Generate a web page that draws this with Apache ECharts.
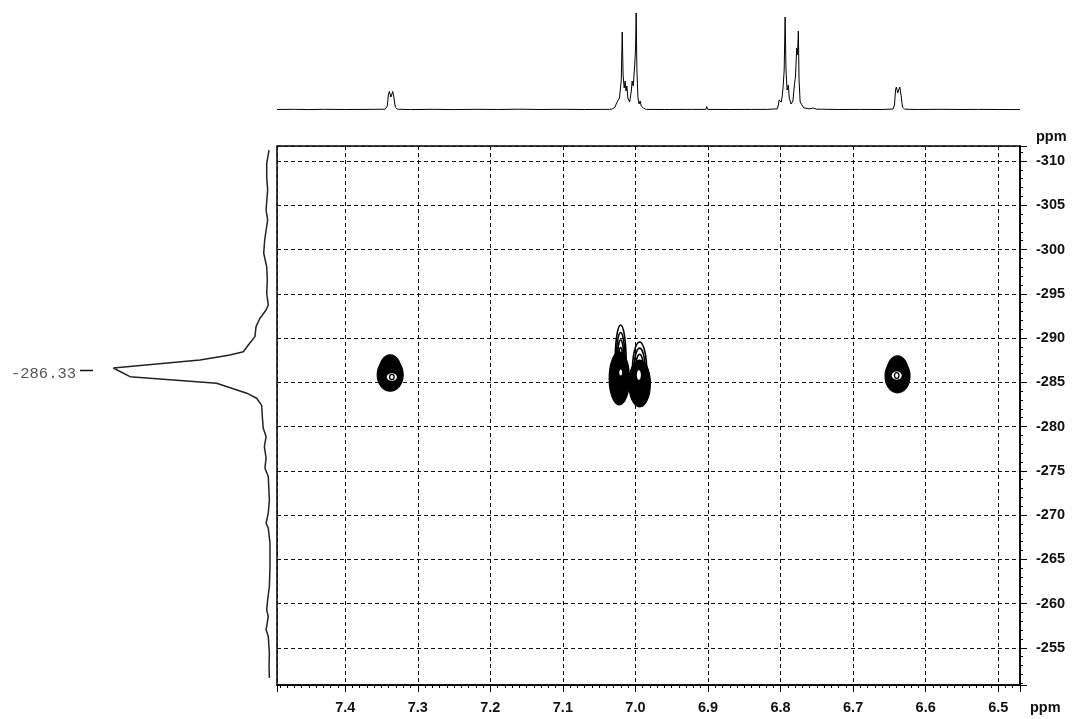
<!DOCTYPE html>
<html><head><meta charset="utf-8">
<script src="https://cdn.jsdelivr.net/npm/echarts@6/dist/echarts.min.js"></script>
<style>html,body{margin:0;padding:0;background:#fff}#c{width:1073px;height:719px}</style>
</head><body><div id="c"></div>
<script>
// ---- data ----
const xTickValues = [7.4, 7.3, 7.2, 7.1, 7.0, 6.9, 6.8, 6.7, 6.6, 6.5];
const xTickLabels = ['7.4', '7.3', '7.2', '7.1', '7.0', '6.9', '6.8', '6.7', '6.6', '6.5'];
const yTickValues = [-310, -305, -300, -295, -290, -285, -280, -275, -270, -265, -260, -255];
const yTickLabels = ['-310', '-305', '-300', '-295', '-290', '-285', '-280', '-275', '-270', '-265', '-260', '-255'];
const f2Range = [6.47, 7.494];      // ppm shown on the horizontal axis
const f1Range = [-311.7, -250.8];   // ppm shown on the vertical axis

// 1D projection on top: [ppm, intensity]
const topSpectrum = [
  [7.494,0.005],[7.47,0.007],[7.45,0.004],[7.43,0.007],[7.40,0.005],[7.37,0.006],[7.345,0.008],
  [7.342,0.04],[7.3405,0.15],[7.3392,0.185],[7.3370,0.13],[7.3358,0.15],[7.3345,0.185],[7.3330,0.13],[7.331,0.03],[7.328,0.008],
  [7.31,0.004],[7.28,0.007],[7.25,0.004],[7.22,0.007],[7.19,0.005],[7.16,0.008],[7.13,0.005],[7.10,0.007],[7.07,0.005],
  [7.046,0.006],[7.044,0.018],[7.042,0.006],[7.036,0.007],[7.034,0.025],[7.032,0.01],[7.028,0.03],[7.026,0.07],
  [7.022,0.12],[7.0195,0.30],[7.0182,0.78],[7.0170,0.35],[7.0155,0.22],[7.0142,0.29],[7.0130,0.19],[7.0118,0.24],
  [7.0105,0.12],[7.0080,0.08],[7.0055,0.20],[7.0046,0.29],[7.0030,0.24],[7.0010,0.45],[6.9998,0.62],[6.9990,0.97],
  [6.9980,0.40],[6.9965,0.12],[6.9950,0.06],[6.9935,0.09],[6.9920,0.04],[6.9890,0.02],[6.985,0.006],
  [6.96,0.005],[6.93,0.006],[6.9215,0.006],[6.9205,0.015],[6.9195,0.006],[6.903,0.006],[6.9017,0.035],[6.9005,0.006],
  [6.87,0.005],[6.84,0.006],[6.818,0.006],[6.8172,0.014],[6.8162,0.006],
  [6.8045,0.012],[6.8030,0.05],[6.8020,0.10],[6.7990,0.08],[6.7975,0.15],[6.7961,0.27],[6.7950,0.40],[6.7937,0.93],
  [6.7925,0.40],[6.7910,0.20],[6.7892,0.25],[6.7880,0.12],[6.7855,0.06],[6.7830,0.09],[6.7809,0.25],[6.7795,0.33],
  [6.7777,0.62],[6.7765,0.55],[6.7755,0.79],[6.7745,0.30],[6.7730,0.08],[6.7705,0.05],[6.7694,0.07],[6.7680,0.02],
  [6.765,0.018],[6.760,0.012],[6.755,0.02],[6.750,0.008],[6.7435,0.008],[6.7430,0.02],[6.7425,0.008],
  [6.72,0.005],[6.69,0.006],[6.66,0.005],[6.645,0.01],[6.643,0.05],[6.6415,0.20],[6.6404,0.23],[6.6385,0.17],
  [6.6372,0.20],[6.6357,0.23],[6.6340,0.15],[6.632,0.03],[6.629,0.008],
  [6.61,0.005],[6.58,0.007],[6.55,0.005],[6.532,0.006],[6.530,0.014],[6.527,0.006],[6.50,0.005],[6.47,0.004]
];

// 1D projection on the left: [ppm, intensity]
const f1Projection = [
  [-311.24,0.006],[-309.74,0.021],[-308.23,0.021],[-306.73,0.015],[-304.47,0.025],[-303.34,0.015],
  [-301.08,0.034],[-299.58,0.040],[-298.06,0.021],[-296.56,0.017],[-295.06,0.021],[-293.74,0.011],
  [-293.17,0.025],[-292.24,0.064],[-291.29,0.089],[-290.16,0.096],[-289.22,0.138],[-288.46,0.170],
  [-288.09,0.255],[-287.53,0.446],[-286.62,0.998],[-285.64,0.892],[-284.90,0.340],[-283.77,0.148],
  [-283.20,0.085],[-282.40,0.053],[-281.12,0.049],[-279.81,0.043],[-278.87,0.025],[-277.74,0.036],
  [-276.43,0.025],[-275.30,0.032],[-274.35,0.011],[-271.72,0.004],[-270.21,0.011],[-269.08,0.025],
  [-268.52,0.011],[-266.83,0.0],[-264.18,0.0],[-261.93,0.004],[-260.42,0.015],[-259.29,0.021],
  [-258.54,0.011],[-257.04,0.025],[-256.28,0.011],[-254.40,0.004],[-252.89,0.006],[-251.58,0.004]
];
const projPeak = [-286.33];

// contour blobs: [f2 ppm, f1 ppm, half-width f2 ppm, half-height f1 ppm]
const contourTails = [
  [7.0204, -287.24, 0.0076, 4.23],
  [6.9943, -286.06, 0.0100, 3.50]
];
const contourBodies = [
  [7.3380, -286.35, 0.0150, 1.75],
  [6.6388, -286.20, 0.0145, 1.80],
  [7.3380, -285.85, 0.0179, 1.85],
  [6.6388, -285.70, 0.0172, 1.90],
  [7.0222, -285.44, 0.0140, 2.99],
  [6.9942, -284.87, 0.0148, 2.65]
];
const contourCores = [
  [7.3357, -285.60, 0.0069, 0.43],
  [6.6399, -285.76, 0.0069, 0.47],
  [7.0204, -286.10, 0.0020, 0.34],
  [6.9953, -285.83, 0.0028, 0.56]
];

// ---- drawing ----
function tickLabel(values, labels) {
  return function (v) {
    const i = values.findIndex(t => Math.abs(t - v) < 1e-6);
    return i >= 0 ? labels[i] : '';
  };
}
function ellipseRender(kind) {
  return function (params, api) {
    const x = api.value(0), y = api.value(1);
    const c = api.coord([x, y]);
    const s = api.size([api.value(2) * 2, api.value(3) * 2], [x, y]);
    const rx = s[0] / 2, ry = s[1] / 2;
    const ch = [];
    if (kind === 'tail') {
      [1, 0.8, 0.6, 0.4].forEach(f => ch.push({type: 'ellipse', shape: {cx: c[0], cy: c[1], rx: rx * f, ry: ry * f},
        style: {fill: 'none', stroke: '#000', lineWidth: 1.6}}));
    } else if (kind === 'body') {
      ch.push({type: 'ellipse', shape: {cx: c[0], cy: c[1], rx: rx, ry: ry}, style: {fill: '#000', stroke: '#000', lineWidth: 1.2}});
    } else {
      ch.push({type: 'ellipse', shape: {cx: c[0], cy: c[1], rx: rx, ry: ry}, style: {fill: '#fff', stroke: 'none'}});
      if (rx > 3) {
        ch.push({type: 'ellipse', shape: {cx: c[0], cy: c[1], rx: rx * 0.45, ry: ry * 0.7}, style: {fill: 'none', stroke: '#000', lineWidth: 1.3}});
      }
    }
    return {type: 'group', children: ch};
  };
}
const labelFont = {fontFamily: 'Liberation Sans, Arial, sans-serif', fontWeight: 'bold', fontSize: 14.5, color: '#111'};
const dashed = {show: true, lineStyle: {color: '#111', width: 1, type: [4, 3]}};

const chart = echarts.init(document.getElementById('c'), null, {renderer: 'canvas'});
chart.setOption({
  animation: false,
  backgroundColor: '#fff',
  grid: [
    {left: 277, right: 53, top: 146, bottom: 34, show: true, borderColor: '#000', borderWidth: 1.5, backgroundColor: 'rgba(0,0,0,0)'},
    {left: 277, right: 53, top: 10, height: 100},
    {left: 0, width: 270, top: 146, bottom: 34}
  ],
  xAxis: [
    {gridIndex: 0, type: 'value', inverse: true, min: f2Range[0], max: f2Range[1], splitNumber: 10,
     name: 'ppm', nameLocation: 'start', nameGap: 10,
     nameTextStyle: Object.assign({}, labelFont, {align: 'left', verticalAlign: 'top', padding: [15, 0, 0, 0]}),
     axisLine: {show: true, onZero: false, lineStyle: {color: '#000', width: 1.5}},
     axisTick: {show: true, length: 7, lineStyle: {color: '#000', width: 1}},
     minorTick: {show: true, splitNumber: 10, length: 3, lineStyle: {color: '#000', width: 1}},
     splitLine: dashed,
     axisLabel: Object.assign({margin: 15, formatter: tickLabel(xTickValues, xTickLabels)}, labelFont)},
    {gridIndex: 1, type: 'value', inverse: true, min: f2Range[0], max: f2Range[1], show: false},
    {gridIndex: 2, type: 'value', inverse: true, min: 0, max: 1.72, show: false}
  ],
  yAxis: [
    {gridIndex: 0, type: 'value', position: 'right', inverse: true, min: f1Range[0], max: f1Range[1], splitNumber: 12,
     name: 'ppm', nameLocation: 'start', nameGap: 2,
     nameTextStyle: Object.assign({}, labelFont, {align: 'left', verticalAlign: 'bottom', padding: [0, 0, 0, 16]}),
     axisLine: {show: true, onZero: false, lineStyle: {color: '#000', width: 1.5}},
     axisTick: {show: true, length: 7, lineStyle: {color: '#000', width: 1}},
     minorTick: {show: true, splitNumber: 5, length: 3, lineStyle: {color: '#000', width: 1}},
     splitLine: dashed,
     axisLabel: Object.assign({margin: 16, formatter: tickLabel(yTickValues, yTickLabels)}, labelFont)},
    {gridIndex: 1, type: 'value', min: 0, max: 1, show: false},
    {gridIndex: 2, type: 'value', inverse: true, min: f1Range[0], max: f1Range[1], show: false}
  ],
  series: [
    {type: 'custom', xAxisIndex: 0, yAxisIndex: 0, z: 3, clip: true, renderItem: ellipseRender('tail'), data: contourTails},
    {type: 'custom', xAxisIndex: 0, yAxisIndex: 0, z: 4, clip: true, renderItem: ellipseRender('body'), data: contourBodies},
    {type: 'custom', xAxisIndex: 0, yAxisIndex: 0, z: 5, clip: true, renderItem: ellipseRender('core'), data: contourCores},
    {type: 'line', xAxisIndex: 1, yAxisIndex: 1, data: topSpectrum, showSymbol: false, symbol: 'none',
     lineStyle: {color: '#000', width: 1}, silent: true},
    {type: 'line', xAxisIndex: 2, yAxisIndex: 2, data: f1Projection.map(p => [p[1], p[0]]), showSymbol: false, symbol: 'none',
     lineStyle: {color: '#222', width: 1.5}, silent: true},
    {type: 'line', xAxisIndex: 2, yAxisIndex: 2, silent: true, showSymbol: true, symbol: 'none',
     lineStyle: {color: '#111', width: 1.5},
     data: [
       {value: [1.21, projPeak[0]], symbol: 'circle', symbolSize: 2, itemStyle: {color: 'rgba(0,0,0,0)'},
        label: {show: true, position: 'left', distance: 3, offset: [0, 3], fontFamily: 'Liberation Mono, monospace',
                fontSize: 15.5, color: '#555', formatter: p => p.value[1].toFixed(2)}},
       {value: [1.127, projPeak[0]], symbol: 'none'}
     ]}
  ]
});
</script></body></html>
